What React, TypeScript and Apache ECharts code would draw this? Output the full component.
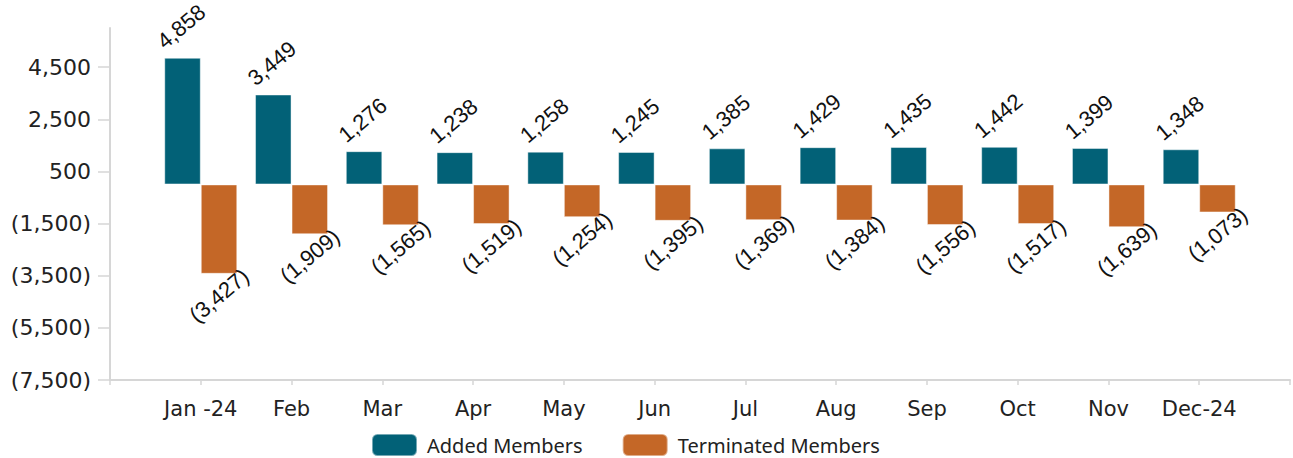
import React, { useEffect, useRef } from "react";
import * as echarts from "echarts";

const months = ["Jan -24", "Feb", "Mar", "Apr", "May", "Jun", "Jul", "Aug", "Sep", "Oct", "Nov", "Dec-24"];
const added = [4858, 3449, 1276, 1238, 1258, 1245, 1385, 1429, 1435, 1442, 1399, 1348];
const terminated = [-3427, -1909, -1565, -1519, -1254, -1395, -1369, -1384, -1556, -1517, -1639, -1073];
const yTickValues = [-7500, -5500, -3500, -1500, 500, 2500, 4500];
const yMin = -7500;
const yMax = 6000;

const fmt = (v: number) => {
  const s = Math.abs(v).toLocaleString("en-US");
  return v < 0 ? `(${s})` : s;
};

export default function App() {
  const ref = useRef<HTMLDivElement>(null);
  useEffect(() => {
    if (!ref.current) return;
    const chart = echarts.init(ref.current, null, { renderer: "svg" });
    const cats = ["", ...months, ""];
    const addedData = [null, ...added, null];
    const termData = [null, ...terminated, null];
    const axisGray = "#d6d6d6";
    const labelCommon = {
      show: true,
      rotate: 40,
      fontFamily: "Liberation Sans",
      fontSize: 22,
      color: "#111",
      formatter: (p: any) => (p.value == null ? "" : fmt(p.value)),
    };
    chart.setOption({
      animation: false,
      grid: { left: 110, right: 0, top: 28, bottom: 78, containLabel: false },
      xAxis: {
        type: "category",
        data: cats,
        boundaryGap: false,
        axisLine: { show: true, onZero: false, lineStyle: { color: axisGray, width: 2 } },
        axisTick: { show: true, length: 5, lineStyle: { color: axisGray, width: 1.5 } },
        axisLabel: {
          interval: 0,
          margin: 18,
          fontFamily: "DejaVu Sans",
          fontSize: 21,
          color: "#222",
        },
        splitLine: { show: false },
      },
      yAxis: {
        type: "value",
        min: yMin,
        max: yMax,
        axisLine: { show: true, lineStyle: { color: axisGray, width: 2 } },
        axisTick: {
          show: true,
          length: 12,
          customValues: yTickValues,
          lineStyle: { color: axisGray, width: 1.5 },
        },
        axisLabel: {
          customValues: yTickValues,
          margin: 19,
          fontFamily: "DejaVu Sans",
          fontSize: 22,
          color: "#222",
          formatter: (v: number) => fmt(v),
        },
        splitLine: { show: false },
      },
      legend: {
        left: 371,
        top: 433,
        padding: 0,
        itemWidth: 45,
        itemHeight: 22,
        itemGap: 39,
        textStyle: { fontFamily: "Noto Sans", fontSize: 20, color: "#222", padding: [0, 0, 0, 5] },
        data: ["Added Members", "Terminated Members"],
      },
      series: [
        {
          name: "Added Members",
          type: "bar",
          data: addedData,
          barWidth: 36.5,
          barGap: "0%",
          itemStyle: { color: "#026177", borderColor: "rgba(255,255,255,0.45)", borderWidth: 1 },
          label: {
            ...labelCommon,
            position: [3, -5],
            align: "left",
            verticalAlign: "bottom",
          },
        },
        {
          name: "Terminated Members",
          type: "bar",
          data: termData,
          barWidth: 36.5,
          barGap: "0%",
          itemStyle: { color: "#c46727", borderColor: "rgba(255,255,255,0.45)", borderWidth: 1 },
          label: {
            ...labelCommon,
            position: ["100%", "100%"],
            offset: [7, -6],
            align: "right",
            verticalAlign: "top",
          },
        },
      ],
    });
    return () => chart.dispose();
  }, []);
  return (
    <div
      ref={ref}
      style={{ position: "absolute", left: 0, top: 0, width: 1293, height: 458 }}
    />
  );
}
